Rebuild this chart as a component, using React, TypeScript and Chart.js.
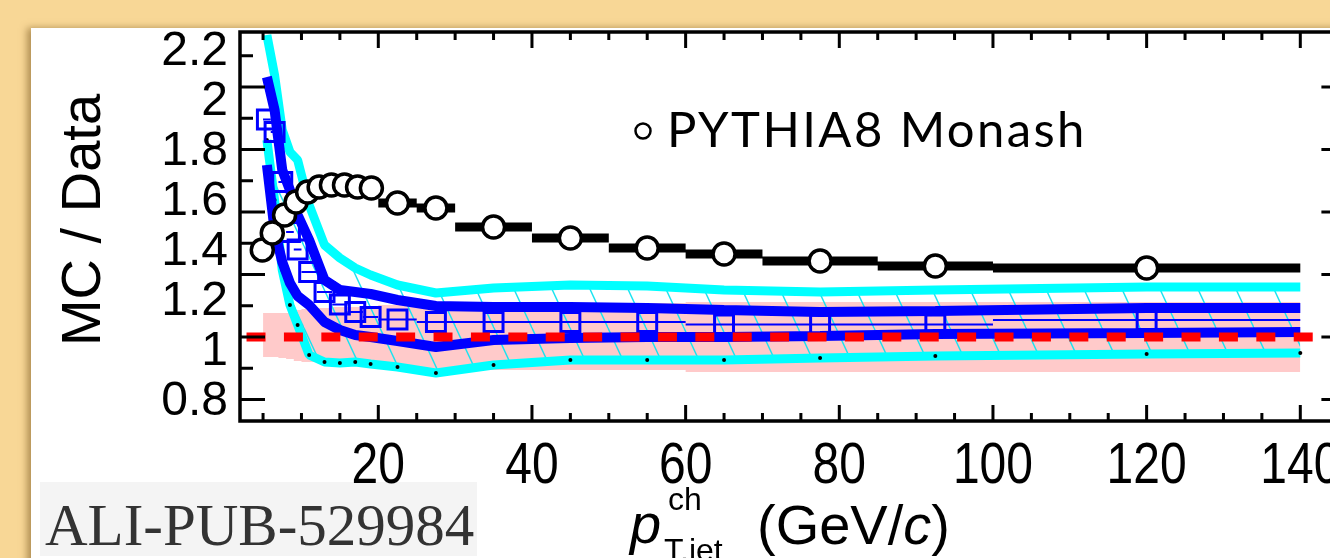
import React, { useEffect, useRef } from "react";
import { Chart, registerables } from "chart.js";

Chart.register(...registerables);

// ---------------- data ----------------
const xTickLabels = [20, 40, 60, 80, 100, 120, 140];
const yTickLabels = [0.8, 1, 1.2, 1.4, 1.6, 1.8, 2, 2.2];

const binEdges = [5, 6, 7, 8, 9, 10, 12, 14, 16, 18, 20, 25, 30, 40, 50, 60, 70, 85, 100, 140];
const binCenters = [5.5, 6.5, 7.5, 8.5, 9.5, 11, 13, 15, 17, 19, 22.5, 27.5, 35, 45, 55, 65, 77.5, 92.5, 120];
const modelX = [5.5, 6.5, 7.5, 8.5, 9.5, 11, 13, 15, 17, 19, 22.5, 27.5, 35, 45, 55, 65, 77.5, 92.5, 120, 140];

// PYTHIA8 Monash (open circles with bin-width bars)
const pythiaX = [4.9, 6.2, 7.8, 9.3, 10.8, 12.3, 13.9, 15.6, 17.3, 19.1, 22.5, 27.5, 35, 45, 55, 65, 77.5, 92.5, 120];
const pythiaXLow = [4.2, 5.55, 7.0, 8.55, 10.05, 11.55, 13.1, 14.75, 16.45, 18.2, 20, 25, 30, 40, 50, 60, 70, 85, 100];
const pythiaXHigh = [5.55, 7.0, 8.55, 10.05, 11.55, 13.1, 14.75, 16.45, 18.2, 20, 25, 30, 40, 50, 60, 70, 85, 100, 140];
const pythiaY = [1.348, 1.416, 1.488, 1.54, 1.58, 1.6, 1.608, 1.608, 1.6, 1.596, 1.536, 1.516, 1.44, 1.396, 1.356, 1.332, 1.304, 1.284, 1.276];

// blue open squares
const squareY = [1.87, 1.82, 1.62, 1.42, 1.35, 1.26, 1.18, 1.13, 1.1, 1.08, 1.07, 1.06, 1.06, 1.06, 1.06, 1.05, 1.05, 1.05, 1.068];

// blue band
const blueHigh = [2.04, 1.908, 1.668, 1.588, 1.488, 1.388, 1.228, 1.188, 1.18, 1.172, 1.148, 1.124, 1.12, 1.12, 1.116, 1.108, 1.1, 1.104, 1.116, 1.116];
const blueLow = [1.688, 1.428, 1.3, 1.216, 1.164, 1.128, 1.06, 1.028, 1.008, 1.0, 0.984, 0.96, 0.988, 0.996, 1.0, 1.0, 1.004, 1.012, 1.016, 1.02];

// cyan hatched band
const cyanHigh = [2.208, 2.048, 1.828, 1.74, 1.708, 1.528, 1.368, 1.316, 1.276, 1.248, 1.208, 1.176, 1.196, 1.208, 1.204, 1.188, 1.18, 1.188, 1.2, 1.2];
const cyanLow = [1.788, 1.548, 1.268, 1.128, 1.048, 0.928, 0.9, 0.896, 0.9, 0.892, 0.88, 0.856, 0.888, 0.908, 0.908, 0.908, 0.916, 0.924, 0.932, 0.936];

// data uncertainty (pink)
const pinkHigh = [1.096, 1.096, 1.096, 1.096, 1.096, 1.108, 1.112, 1.116, 1.12, 1.12, 1.124, 1.128, 1.132, 1.132, 1.132, 1.136, 1.14, 1.14, 1.14];
const pinkLow = [0.92, 0.92, 0.92, 0.916, 0.912, 0.904, 0.9, 0.896, 0.892, 0.888, 0.884, 0.876, 0.868, 0.868, 0.868, 0.868, 0.86, 0.86, 0.86];

// reference line at unity
const refLineX = [2.85, 146];
const refLineY = [1, 1];

// ---------------- helpers ----------------
const pts = (xs: number[], ys: number[]) => xs.map((x, i) => ({ x, y: ys[i] }));
const stepPts = (edges: number[], ys: number[]) => {
  const a = ys.map((y, i) => ({ x: edges[i], y }));
  a.push({ x: edges[edges.length - 1], y: ys[ys.length - 1] });
  return a;
};
const barPts = (lo: number[], hi: number[], ys: number[]) => {
  const a: any[] = [];
  ys.forEach((y, i) => {
    a.push({ x: lo[i], y }, { x: hi[i], y }, { x: hi[i], y: null });
  });
  return a;
};

const FONT = "'Liberation Sans', Arial, Helvetica, sans-serif";

export default function App() {
  const ref = useRef<HTMLCanvasElement>(null);

  useEffect(() => {
    const canvas = ref.current!;
    const pc = document.createElement("canvas");
    pc.width = 38;
    pc.height = 82;
    const p = pc.getContext("2d")!;
    p.strokeStyle = "#19e3f0";
    p.lineWidth = 1.4;
    for (const off of [-38, 0, 38]) {
      p.beginPath();
      p.moveTo(off, 0);
      p.lineTo(off + 38, 82);
      p.stroke();
    }
    const hatch = canvas.getContext("2d")!.createPattern(pc, "repeat");

    const framePlugin = {
      id: "frame",
      afterDatasetsDraw(chart: any) {
        const { ctx, chartArea: a, scales } = chart;
        const xs = scales.x;
        const ys = scales.y;
        ctx.save();
        ctx.strokeStyle = "#000";
        ctx.lineWidth = 3.5;
        ctx.strokeRect(a.left, a.top, a.right - a.left, a.bottom - a.top);
        ctx.lineWidth = 3;
        for (let v = 5; v < 146; v += 5) {
          const px = xs.getPixelForValue(v);
          const len = v % 20 === 0 ? 16 : 8;
          ctx.beginPath();
          ctx.moveTo(px, a.bottom);
          ctx.lineTo(px, a.bottom - len);
          ctx.moveTo(px, a.top);
          ctx.lineTo(px, a.top + len);
          ctx.stroke();
        }
        for (let k = 0; k < 12; k++) {
          const v = 0.75 + k * 0.125;
          const py = ys.getPixelForValue(v);
          const len = k % 2 === 0 ? 25 : 13;
          ctx.beginPath();
          ctx.moveTo(a.left, py);
          ctx.lineTo(a.left + len, py);
          ctx.moveTo(a.right, py);
          ctx.lineTo(a.right - len, py);
          ctx.stroke();
        }
        // x tick labels (slightly tall glyphs, as in the original)
        ctx.fillStyle = "#000";
        ctx.font = `48px ${FONT}`;
        ctx.textAlign = "center";
        ctx.textBaseline = "alphabetic";
        for (const v of xTickLabels) {
          const px = xs.getPixelForValue(v);
          ctx.save();
          ctx.translate(px, 483);
          ctx.scale(1, 1.2);
          ctx.fillText(String(v), 0, 0);
          ctx.restore();
        }
        ctx.restore();
      },
      afterDraw(chart: any) {
        const { ctx } = chart;
        ctx.save();
        ctx.fillStyle = "#000";
        ctx.textBaseline = "alphabetic";
        // legend
        ctx.beginPath();
        ctx.lineWidth = 2.5;
        ctx.strokeStyle = "#000";
        ctx.arc(643, 131, 7.5, 0, Math.PI * 2);
        ctx.stroke();
        ctx.font = "49px Lato, 'Noto Sans', sans-serif";
        ctx.textAlign = "left";
        (ctx as any).letterSpacing = "2.4px";
        ctx.fillText("PYTHIA8 Monash", 667, 147);
        (ctx as any).letterSpacing = "0px";
        // y title
        ctx.save();
        ctx.translate(100, 220);
        ctx.rotate(-Math.PI / 2);
        ctx.textAlign = "center";
        ctx.font = `56px ${FONT}`;
        ctx.fillText("MC / Data", 0, 0);
        ctx.restore();
        // x title
        ctx.textAlign = "left";
        ctx.font = `italic 56px ${FONT}`;
        ctx.fillText("p", 630, 543);
        ctx.font = `32px ${FONT}`;
        ctx.fillText("ch", 668, 510);
        ctx.fillText("T,jet", 664, 561);
        ctx.font = `56px ${FONT}`;
        let x0 = 757;
        ctx.fillText("(GeV/", x0, 544);
        x0 += ctx.measureText("(GeV/").width;
        ctx.font = `italic 56px ${FONT}`;
        ctx.fillText("c", x0, 544);
        x0 += ctx.measureText("c").width;
        ctx.font = `56px ${FONT}`;
        ctx.fillText(")", x0, 544);
        // ALI-PUB label
        ctx.fillStyle = "#333";
        ctx.font = "59px 'Liberation Serif', 'Times New Roman', serif";
        ctx.fillText("ALI-PUB-529984", 45, 545);
        ctx.restore();
      },
    };

    const datasets: any[] = [
      {
        label: "PYTHIA8 Monash",
        data: pts(pythiaX, pythiaY),
        showLine: false,
        pointRadius: 11,
        pointBorderWidth: 3.5,
        pointBackgroundColor: "#fff",
        pointBorderColor: "#000",
        order: 0,
      },
      {
        label: "pythia bins",
        data: barPts(pythiaXLow, pythiaXHigh, pythiaY),
        borderColor: "#000",
        borderWidth: 9,
        borderCapStyle: "butt",
        pointRadius: 0,
        spanGaps: false,
        order: 1,
      },
      {
        label: "unity",
        data: pts(refLineX, refLineY),
        borderColor: "#ff0000",
        borderWidth: 9,
        borderDash: [19, 18.4],
        borderCapStyle: "butt",
        pointRadius: 0,
        order: 2,
      },
      {
        label: "squares",
        data: pts(binCenters, squareY),
        showLine: false,
        pointStyle: "rect",
        pointRadius: 13.4,
        pointBorderWidth: 3,
        pointBackgroundColor: "rgba(0,0,0,0)",
        pointBorderColor: "#0000ff",
        order: 3,
      },
      {
        label: "square bins",
        data: barPts(binEdges.slice(0, -1), binEdges.slice(1), squareY),
        borderColor: "#0000ff",
        borderWidth: 2,
        pointRadius: 0,
        spanGaps: false,
        order: 4,
      },
      {
        label: "blue high",
        data: pts(modelX, blueHigh),
        borderColor: "#0000ff",
        borderWidth: 10,
        borderJoinStyle: "bevel",
        pointRadius: 0,
        order: 5,
      },
      {
        label: "blue low",
        data: pts(modelX, blueLow),
        borderColor: "#0000ff",
        borderWidth: 10,
        borderJoinStyle: "bevel",
        pointRadius: 0,
        order: 6,
      },
      {
        label: "cyan low",
        data: pts(modelX, cyanLow),
        borderColor: "#00ffff",
        borderWidth: 9,
        borderJoinStyle: "bevel",
        pointRadius: 2,
        pointBorderWidth: 0,
        pointBackgroundColor: "#000",
        order: 7,
      },
      {
        label: "cyan high",
        data: pts(modelX, cyanHigh),
        borderColor: "#00ffff",
        borderWidth: 9,
        borderJoinStyle: "bevel",
        pointRadius: 0,
        fill: { target: 7 },
        backgroundColor: hatch,
        order: 8,
      },
      {
        label: "data unc high",
        data: stepPts(binEdges, pinkHigh),
        stepped: "after",
        borderColor: "rgba(0,0,0,0)",
        borderWidth: 1,
        pointRadius: 0,
        fill: { target: 10 },
        backgroundColor: "#ffcaca",
        order: 10,
      },
      {
        label: "data unc low",
        data: stepPts(binEdges, pinkLow),
        stepped: "after",
        borderColor: "rgba(0,0,0,0)",
        borderWidth: 1,
        pointRadius: 0,
        order: 11,
      },
    ];

    const chart = new Chart(canvas, {
      type: "line",
      data: { datasets },
      options: {
        responsive: false,
        animation: false,
        events: [],
        devicePixelRatio: 1,
        layout: { padding: { top: 32, left: 0, right: 53.6, bottom: 0 } },
        plugins: { legend: { display: false }, tooltip: { enabled: false } },
        scales: {
          x: {
            type: "linear",
            min: 2,
            max: 146,
            grid: { display: false, drawTicks: false },
            border: { display: false },
            ticks: { display: false },
            afterBuildTicks: (s: any) => {
              s.ticks = xTickLabels.map((v) => ({ value: v }));
            },
            afterFit: (s: any) => {
              s.height = 137;
              s.paddingLeft = 0;
              s.paddingRight = 0;
            },
          },
          y: {
            type: "linear",
            min: 0.664,
            max: 2.22,
            grid: { display: false, drawTicks: false },
            border: { display: false },
            ticks: {
              font: { family: FONT, size: 48 },
              color: "#000",
              padding: 12,
              labelOffset: 15,
              autoSkip: false,
              callback: (v: any) => String(+Number(v).toFixed(1)),
            },
            afterBuildTicks: (s: any) => {
              s.ticks = yTickLabels.map((v) => ({ value: v }));
            },
            afterFit: (s: any) => {
              s.width = 240;
              s.paddingTop = 0;
              s.paddingBottom = 0;
            },
          },
        },
      } as any,
      plugins: [framePlugin],
    });
    return () => chart.destroy();
  }, []);

  return (
    <div
      style={{
        position: "fixed",
        left: 0,
        top: 0,
        width: 1330,
        height: 558,
        overflow: "hidden",
        background: "#f8d796",
      }}
    >
      <div
        style={{
          position: "absolute",
          left: 31,
          top: 28,
          width: 1340,
          height: 560,
          background: "#fff",
          boxShadow: "-4px 0 7px rgba(120,85,30,0.55)",
        }}
      />
      <div
        style={{
          position: "absolute",
          left: 40,
          top: 482,
          width: 437,
          height: 74,
          background: "#f4f4f4",
        }}
      />
      <canvas
        ref={ref}
        width={1400}
        height={558}
        style={{ position: "absolute", left: 0, top: 0, width: 1400, height: 558 }}
      />
    </div>
  );
}
